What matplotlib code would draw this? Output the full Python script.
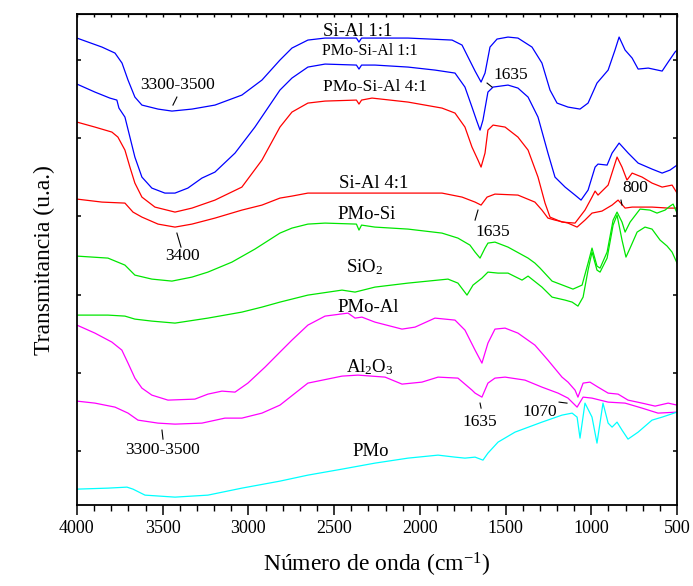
import matplotlib
matplotlib.use('Agg')
import matplotlib.pyplot as plt
import numpy as np

plt.rcParams['font.family'] = ['Liberation Serif', 'DejaVu Serif']
plt.rcParams['mathtext.fontset'] = 'custom'
plt.rcParams['mathtext.rm'] = 'Liberation Serif'
plt.rcParams['mathtext.it'] = 'Liberation Serif:italic'

# spectra (wavenumber in cm-1, transmittance in arbitrary units)
wn_sial11 = [4000, 3854, 3778, 3737, 3702, 3662, 3621, 3527, 3446, 3329, 3195, 3038, 2921, 2816,
             2746, 2653, 2553, 2370, 2355, 2340, 2069, 1812, 1754, 1719, 1678, 1643, 1620, 1591,
             1550, 1486, 1428, 1346, 1288, 1241, 1200, 1136, 1066, 1019, 967, 902, 862, 838, 803,
             762, 727, 668, 587, 552, 512, 500]
t_sial11 = [467, 458, 452, 442, 425, 408, 400, 396, 394, 396, 400, 410, 425, 445,
            457, 465, 467, 467, 463, 467, 467, 465, 460, 448, 434, 423, 432, 458,
            466, 468, 467, 458, 442, 415, 402, 398, 396, 402, 422, 435, 455, 468, 455,
            447, 436, 437, 434, 443, 453, 455]

wn_pmosial11 = [4000, 3895, 3808, 3767, 3755, 3720, 3691, 3662, 3621, 3563, 3487, 3428, 3353, 3271,
                3195, 3078, 2962, 2816, 2746, 2653, 2553, 2370, 2355, 2340, 2262, 2069, 1912, 1795,
                1737, 1696, 1670, 1649, 1632, 1603, 1573, 1486, 1428, 1369, 1311, 1253, 1212, 1153,
                1095, 1060, 1019, 978, 961, 908, 879, 838, 785, 727, 646, 587, 541, 500]
t_pmosial11 = [421, 413, 407, 405, 397, 388, 368, 348, 328, 317, 312, 312, 317, 327,
               333, 352, 378, 415, 427, 438, 441, 440, 436, 440, 440, 438, 435, 432,
               418, 398, 385, 375, 385, 413, 418, 420, 417, 408, 388, 352, 328, 318,
               310, 305, 315, 338, 341, 340, 352, 362, 352, 342, 336, 332, 335, 340]

wn_pmosial41 = [4000, 3895, 3796, 3761, 3720, 3691, 3662, 3621, 3545, 3428, 3329, 3195, 3038, 2921,
                2816, 2746, 2653, 2553, 2370, 2355, 2340, 2279, 2069, 1871, 1795, 1737, 1696, 1661,
                1643, 1620, 1603, 1573, 1503, 1428, 1369, 1311, 1270, 1241, 1171, 1095, 1037, 996,
                978, 961, 902, 850, 821, 792, 762, 704, 646, 587, 529, 500]
t_pmosial41 = [383, 378, 373, 368, 355, 338, 322, 308, 298, 293, 297, 305, 318, 345,
               378, 393, 402, 404, 405, 401, 405, 407, 403, 397, 392, 378, 358, 345,
               338, 352, 375, 380, 378, 368, 355, 328, 302, 288, 283, 282, 295, 308,
               314, 310, 320, 348, 338, 325, 332, 328, 322, 318, 320, 312]

wn_sial41 = [4000, 3854, 3720, 3673, 3621, 3527, 3428, 3329, 3195, 3038, 2921, 2816, 2746, 2653,
             2378, 2069, 1871, 1754, 1678, 1643, 1608, 1562, 1428, 1329, 1288, 1253, 1212, 1136,
             1083, 1037, 996, 938, 879, 844, 803, 762, 646, 552, 500]
t_sial41 = [306, 303, 302, 293, 288, 281, 278, 281, 287, 295, 300, 307, 309, 312,
            312, 312, 312, 308, 303, 300, 308, 311, 310, 303, 295, 287, 285, 282,
            278, 285, 292, 294, 300, 305, 297, 298, 298, 297, 297]

wn_pmosi = [4000, 3819, 3720, 3662, 3563, 3446, 3329, 3236, 3096, 2962, 2816, 2746, 2653, 2553,
            2370, 2355, 2340, 2262, 2069, 1871, 1778, 1708, 1678, 1649, 1620, 1603, 1562, 1486,
            1369, 1329, 1299, 1229, 1183, 1107, 1054, 1019, 996, 967, 949, 908, 873, 850, 821,
            803, 774, 716, 658, 617, 570, 541, 523, 500]
t_pmosi = [249, 247, 240, 230, 226, 224, 228, 233, 243, 256, 272, 277, 281, 282,
           281, 275, 280, 278, 276, 272, 267, 260, 253, 247, 257, 262, 263, 258,
           247, 242, 237, 224, 221, 216, 220, 242, 257, 239, 237, 253, 285, 293, 283,
           273, 283, 296, 295, 292, 295, 299, 301, 292]

wn_sio2 = [4000, 3819, 3720, 3662, 3563, 3428, 3236, 3038, 2921, 2816, 2653, 2454, 2378, 2262,
           2069, 1836, 1778, 1725, 1690, 1638, 1603, 1544, 1486, 1404, 1369, 1288, 1229, 1153,
           1112, 1078, 1048, 1019, 996, 967, 949, 908, 873, 850, 821, 798, 774, 733, 687, 646,
           599, 558, 529, 500]
t_sio2 = [190, 190, 189, 186, 184, 182, 187, 193, 198, 203, 210, 215, 213, 218,
          222, 226, 222, 210, 220, 227, 233, 232, 232, 225, 229, 218, 208, 205,
          203, 199, 208, 235, 253, 235, 233, 247, 280, 290, 265, 248, 257, 273, 278, 276,
          265, 259, 253, 242]

wn_pmoal = [4000, 3895, 3796, 3738, 3702, 3662, 3621, 3563, 3469, 3312, 3236, 3154, 3078, 3003,
            2903, 2816, 2746, 2653, 2553, 2419, 2378, 2338, 2262, 2104, 2028, 1912, 1795, 1737,
            1678, 1638, 1603, 1562, 1503, 1428, 1329, 1253, 1171, 1136, 1095, 1078, 1048, 1008,
            961, 902, 844, 786, 704, 628, 552, 500]
t_pmoal = [180, 172, 163, 155, 142, 127, 117, 110, 105, 106, 111, 114, 113, 122,
           138, 153, 165, 180, 189, 192, 187, 188, 183, 176, 178, 187, 185, 175,
           155, 142, 162, 176, 177, 172, 160, 145, 128, 123, 115, 108, 122, 123,
           118, 112, 111, 105, 102, 99, 102, 100]

wn_al2o3 = [4000, 3895, 3778, 3702, 3644, 3527, 3428, 3271, 3137, 3038, 2921, 2816, 2653, 2454,
            2361, 2203, 2104, 1988, 1894, 1778, 1696, 1678, 1638, 1603, 1562, 1503, 1387, 1288,
            1194, 1136, 1083, 1048, 996, 902, 803, 704, 611, 500]
t_al2o3 = [104, 102, 98, 92, 85, 82, 81, 82, 87, 87, 92, 100, 122, 129,
           130, 128, 121, 123, 128, 127, 115, 112, 108, 122, 127, 128, 125, 118,
           112, 107, 98, 108, 107, 103, 102, 97, 92, 93]

wn_pmo = [4000, 3819, 3708, 3673, 3603, 3428, 3236, 3038, 2816, 2653, 2454, 2262, 2069, 1894,
          1795, 1737, 1678, 1632, 1603, 1544, 1445, 1288, 1171, 1112, 1083, 1066, 1037, 996,
          967, 932, 902, 879, 850, 821, 786, 727, 646, 587, 500]
t_pmo = [16, 17, 18, 16, 10, 8, 10, 17, 24, 30, 36, 42, 47, 50,
         48, 47, 48, 45, 52, 63, 73, 83, 90, 92, 88, 67, 102, 88,
         62, 102, 82, 78, 83, 75, 66, 73, 85, 88, 93]

fig, ax = plt.subplots(figsize=(6.93, 5.86), dpi=100)
fig.subplots_adjust(left=0.111, right=0.977, bottom=0.138, top=0.976)

lw = 0.9
ax.plot(wn_sial11, t_sial11, color='#0000ff', lw=lw)
ax.plot(wn_pmosial11, t_pmosial11, color='#0000ff', lw=lw)
ax.plot(wn_pmosial41, t_pmosial41, color='#ff0000', lw=lw)
ax.plot(wn_sial41, t_sial41, color='#ff0000', lw=lw)
ax.plot(wn_pmosi, t_pmosi, color='#00e600', lw=lw)
ax.plot(wn_sio2, t_sio2, color='#00e600', lw=lw)
ax.plot(wn_pmoal, t_pmoal, color='#ff00ff', lw=lw)
ax.plot(wn_al2o3, t_al2o3, color='#ff00ff', lw=lw)
ax.plot(wn_pmo, t_pmo, color='#00ffff', lw=lw)

ax.set_xlim(4000, 500)
ax.set_ylim(0, 491)
ax.set_xticks(np.arange(4000, 499, -500))
ax.set_xticks(np.arange(4000, 499, -100), minor=True)
ax.set_yticks(np.linspace(54, 445, 6))
ax.set_yticklabels([])
ax.tick_params(axis='x', which='major', direction='out', length=7, width=1.1, labelsize=13, pad=4)
ax.tick_params(axis='x', which='minor', direction='out', length=4, width=1.0)
ax.tick_params(axis='y', direction='in', length=3, width=1.1, right=True)
for s in ax.spines.values():
    s.set_linewidth(1.3)

# short inward ticks along the top edge
top = ax.secondary_xaxis('top')
top.set_xticks(np.arange(4000, 499, -100))
top.set_xticklabels([])
top.tick_params(direction='in', length=2.5, width=1.0)

ax.set_xlabel('Número de onda (cm$^{-1}$)', fontsize=17, labelpad=10)
ax.set_ylabel('Transmitancia (u.a.)', fontsize=17, labelpad=12)

# curve labels
lab = dict(ha='center', fontsize=13.5)
ax.text(2361, 474, 'Si-Al 1:1', va='center', **lab)
ax.text(2291, 454, 'PMo-Si-Al 1:1', va='center', ha='center', fontsize=11.5)
ax.text(2262, 418, 'PMo-Si-Al 4:1', va='center', ha='center', fontsize=12.5)
ax.text(2268, 322, 'Si-Al 4:1', va='center', **lab)
ax.text(2308, 291, 'PMo-Si', va='center', **lab)
ax.text(2320, 233, 'SiO$_2$', va='baseline', **lab)
ax.text(2303, 198, 'PMo-Al', va='center', **lab)
ax.text(2291, 133, 'Al$_2$O$_3$', va='baseline', **lab)
ax.text(2285, 54, 'PMo', va='center', **lab)

# band assignments with short leader lines
bands = [
    ('3300-3500', 3411, 420, (3440, 3417), (400, 408)),
    ('3400', 3387, 249, (3417, 3393), (272, 258)),
    ('1635', 1468, 430, (1608, 1579), (422, 418)),
    ('1635', 1573, 273, (1678, 1661), (285, 295)),
    ('800', 745, 317, (827, 821), (305, 300)),
    ('3300-3500', 3498, 55, (3504, 3498), (75, 66)),
    ('1635', 1649, 83, (1649, 1643), (102, 97)),
    ('1070', 1299, 93, (1188, 1142), (103, 102)),
]
for txt, x, y, lx, ly in bands:
    ax.text(x, y, txt, ha='center', va='center', fontsize=12.5)
    ax.plot(lx, ly, color='black', lw=0.8)

fig.savefig('out.png', dpi=100)
